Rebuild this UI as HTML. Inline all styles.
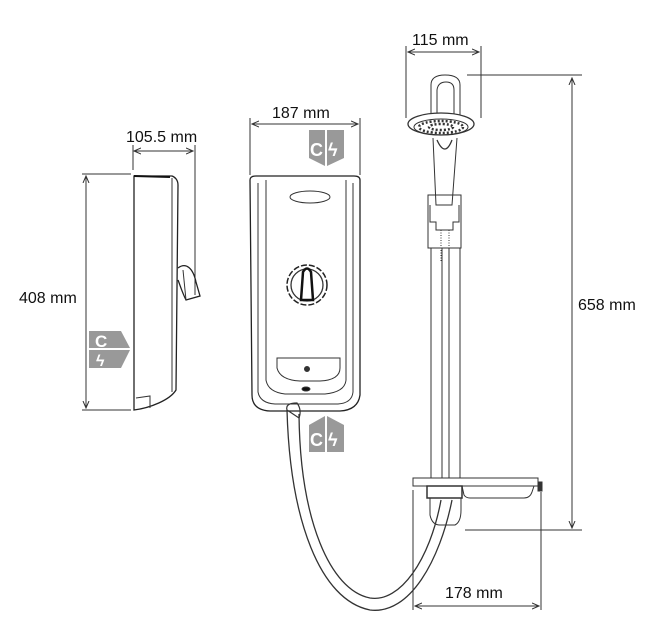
<!DOCTYPE html>
<html><head><style>
html,body{margin:0;padding:0;background:#fff;}
svg{display:block;}
text{font-family:"Liberation Sans",Arial,sans-serif;font-size:16px;fill:#111;}
</style></head><body>
<svg width="666" height="643" viewBox="0 0 666 643" xmlns="http://www.w3.org/2000/svg">
<defs>
<marker id="a" markerWidth="8" markerHeight="8" refX="7" refY="4" orient="auto-start-reverse" markerUnits="userSpaceOnUse"><path d="M0,1 L7,4 L0,7" fill="none" stroke="#333" stroke-width="1"/></marker>
</defs>
<g stroke="#333" stroke-width="1" fill="none">
<line x1="86" y1="176" x2="86" y2="408" marker-start="url(#a)" marker-end="url(#a)"/>
<line x1="82" y1="174" x2="131" y2="174"/>
<line x1="82" y1="410" x2="131" y2="410"/>
<line x1="134" y1="151" x2="193" y2="151" marker-start="url(#a)" marker-end="url(#a)"/>
<line x1="133" y1="145" x2="133" y2="170"/>
<line x1="195" y1="145" x2="195" y2="295"/>
<path d="M134,176 L134,410 C150,408 170,400 176,390 L178,185 C178,180 175,177 172,176 Z" stroke="#222" stroke-width="1.3"/>
<line x1="172" y1="178" x2="172" y2="392"/>
<path d="M134,176 L170,177" stroke="#111" stroke-width="2"/>
<path d="M178,268 C186,262 193,268 196,282 L200,296 L186,300 C182,292 180,285 178,280" stroke="#222" stroke-width="1.3"/>
<line x1="183" y1="270" x2="186" y2="300"/>
<path d="M136,398 L150,396 L150,408"/>
<polygon points="89,331 121,331 130,348 89,348" fill="#999" stroke="none"/>
<polygon points="89,350 130,350 121,368 89,368" fill="#999" stroke="none"/>
<line x1="252" y1="124" x2="358" y2="124" marker-start="url(#a)" marker-end="url(#a)"/>
<line x1="250" y1="118" x2="250" y2="175"/>
<line x1="360" y1="118" x2="360" y2="175"/>
<path d="M250,180 Q250,176 256,176 L354,176 Q360,176 360,180 L360,395 Q358,410 340,411 L270,411 Q252,410 252,395 Z" stroke="#222" stroke-width="1.3"/>
<path d="M258,183 L258,392 Q260,403 275,404 L338,404 Q352,403 353,392 L353,183"/>
<path d="M266,180 L266,380 Q268,392 285,394 L325,394 Q345,392 346,380 L346,180"/>
<path d="M277,358 L277,368 Q280,380 300,381 L320,381 Q340,380 340,368 L340,358 Z"/>
<line x1="277" y1="358" x2="340" y2="358"/>
<ellipse cx="310" cy="197" rx="20" ry="6"/>
<circle cx="307" cy="285" r="20" stroke-width="1.5" stroke="#222" stroke-dasharray="6,2"/>
<circle cx="307" cy="285" r="16" stroke-width="1.3"/>
<path d="M301,300 L303,272 Q307,265 311,272 L313,300 Z" stroke-width="2.5" stroke="#111"/>
<circle cx="307" cy="369" r="2.5" fill="#333"/>
<ellipse cx="306" cy="389" rx="4" ry="2" fill="#111"/>
<polygon points="309,130 325,130 325,166 309,158" fill="#999" stroke="none"/>
<polygon points="327,130 344,130 344,158 327,166" fill="#999" stroke="none"/>
<polygon points="309,425 325,416 325,452 309,452" fill="#999" stroke="none"/>
<polygon points="327,416 344,425 344,452 327,452" fill="#999" stroke="none"/>
<path d="M287,410 Q285,403 297,403 Q302,410 299,418 Z" stroke-width="1.2"/>
<path d="M287,410 C290,520 320,600 370,610 C410,615 440,560 452,500" stroke-width="1.3"/>
<path d="M299,414 C300,520 330,590 370,598 C400,603 430,560 441,500" stroke-width="1.3"/>
<rect x="428" y="195" width="33" height="53"/>
<line x1="431" y1="248" x2="431" y2="478"/>
<line x1="442" y1="248" x2="442" y2="478"/>
<line x1="449" y1="248" x2="449" y2="478"/>
<line x1="460" y1="248" x2="460" y2="478"/>
<path d="M430,205 L430,222 L436,222 L436,230 L453,230 L453,222 L459,222 L459,205"/>
<path d="M441,230 L441,262 M449,230 L449,262" stroke-dasharray="1,1.5"/>
<rect x="413" y="478" width="125" height="8"/>
<rect x="427" y="486" width="35" height="12" stroke-width="1.5"/>
<path d="M462,486 L464,495 Q466,498 470,498 L524,498 Q530,498 532,492 L534,486"/>
<rect x="538" y="482" width="4" height="9" fill="#333"/>
<path d="M430,498 L430,515 Q432,525 440,525 L455,525 Q461,522 461,510 L461,498"/>
<path d="M431,118 L431,85 Q431,75 445,75 Q460,75 460,85 L460,120"/>
<path d="M437,118 L437,90 Q438,82 446,82 Q454,82 454,90 L454,118"/>
<path d="M433,138 L436,205 L452,205 L457,138"/>
<path d="M437,140 Q445,158 452,140" stroke-width="1.3"/>
<ellipse cx="441" cy="124" rx="33" ry="11" stroke-width="1.3" fill="#fff"/>
<ellipse cx="441" cy="127" rx="27" ry="8" stroke-width="1"/>
<g stroke="#333" stroke-width="2.5" stroke-dasharray="2,2">
<ellipse cx="441" cy="127" rx="22" ry="6"/>
<ellipse cx="441" cy="127" rx="12" ry="3"/>
</g>
<line x1="408" y1="52" x2="479" y2="52" marker-start="url(#a)" marker-end="url(#a)"/>
<line x1="406" y1="46" x2="406" y2="118"/>
<line x1="481" y1="46" x2="481" y2="118"/>
<line x1="467" y1="75" x2="582" y2="75"/>
<line x1="572" y1="78" x2="572" y2="528" marker-start="url(#a)" marker-end="url(#a)"/>
<line x1="465" y1="530" x2="582" y2="530"/>
<line x1="413" y1="490" x2="413" y2="610"/>
<line x1="541" y1="492" x2="541" y2="610"/>
<line x1="415" y1="606" x2="539" y2="606" marker-start="url(#a)" marker-end="url(#a)"/>
</g>
<text x="95" y="347" style="fill:#fff;font-size:17px;font-weight:bold">C</text>
<text x="96" y="366" style="fill:#fff;font-size:16px;font-weight:bold">ϟ</text>
<text x="310" y="156" style="fill:#fff;font-size:18px;font-weight:bold">C</text>
<text x="328" y="156" style="fill:#fff;font-size:18px;font-weight:bold">ϟ</text>
<text x="310" y="446" style="fill:#fff;font-size:18px;font-weight:bold">C</text>
<text x="328" y="446" style="fill:#fff;font-size:18px;font-weight:bold">ϟ</text>
<text x="19" y="303">408 mm</text>
<text x="126" y="142">105.5 mm</text>
<text x="272" y="118">187 mm</text>
<text x="412" y="45">115 mm</text>
<text x="578" y="310">658 mm</text>
<text x="445" y="598">178 mm</text>
</svg>
</body></html>
